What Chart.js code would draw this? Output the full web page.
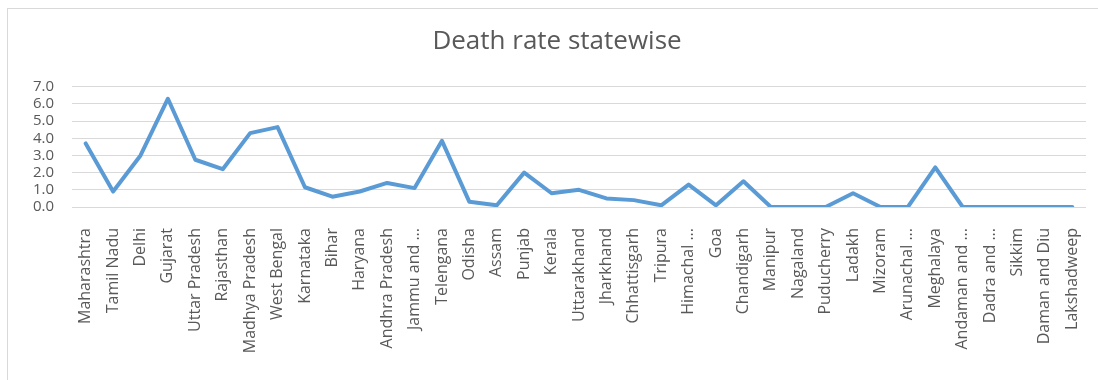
<!DOCTYPE html>
<html>
<head>
<meta charset="utf-8">
<script src="https://cdn.jsdelivr.net/npm/chart.js@4/dist/chart.umd.min.js"></script>
<style>
  html, body { margin: 0; padding: 0; background: #ffffff; }
  #wrap { position: relative; width: 1098px; height: 380px; }
  #frame { position: absolute; left: 7px; top: 8px; right: -2px; bottom: -2px; border-left: 1px solid #d9d9d9; border-top: 1px solid #d9d9d9; pointer-events: none; }
  canvas { position: absolute; left: 0; top: 0; }
</style>
</head>
<body>
<div id="wrap">
  <canvas id="c" width="1098" height="380"></canvas>
  <div id="frame"></div>
</div>
<script>
const chartTitle = "Death rate statewise";

const states = [
  "Maharashtra", "Tamil Nadu", "Delhi", "Gujarat", "Uttar Pradesh", "Rajasthan",
  "Madhya Pradesh", "West Bengal", "Karnataka", "Bihar", "Haryana", "Andhra Pradesh",
  "Jammu and ...", "Telengana", "Odisha", "Assam", "Punjab", "Kerala",
  "Uttarakhand", "Jharkhand", "Chhattisgarh", "Tripura", "Himachal ...", "Goa",
  "Chandigarh", "Manipur", "Nagaland", "Puducherry", "Ladakh", "Mizoram",
  "Arunachal ...", "Meghalaya", "Andaman and ...", "Dadra and ...", "Sikkim",
  "Daman and Diu", "Lakshadweep"
];

const deathRate = [
  3.7, 0.9, 3.0, 6.3, 2.75, 2.2,
  4.3, 4.65, 1.15, 0.6, 0.9, 1.4,
  1.1, 3.85, 0.3, 0.1, 2.0, 0.8,
  1.0, 0.5, 0.4, 0.1, 1.3, 0.1,
  1.5, 0.0, 0.0, 0.0, 0.8, 0.0,
  0.0, 2.3, 0.0, 0.0, 0.0,
  0.0, 0.0
];

const yTicks = [0, 1, 2, 3, 4, 5, 6, 7];

const textColor = "#595959";
const gridColor = "#d9d9d9";
const lineColor = "#5b9bd5";

new Chart(document.getElementById("c"), {
  type: "line",
  data: {
    labels: states,
    datasets: [{
      label: "Death rate",
      data: deathRate,
      borderColor: lineColor,
      backgroundColor: lineColor,
      borderWidth: 4,
      pointRadius: 0,
      pointHoverRadius: 0,
      tension: 0,
      borderJoinStyle: "round",
      borderCapStyle: "round",
      fill: false
    }]
  },
  options: {
    responsive: false,
    animation: false,
    devicePixelRatio: 1,
    layout: { padding: { left: 28, right: 12, top: 0, bottom: 0 } },
    plugins: {
      legend: { display: false },
      tooltip: { enabled: false },
      title: {
        display: true,
        text: chartTitle,
        color: textColor,
        font: { family: "Open Sans", size: 26, weight: "normal" },
        padding: { top: 26, bottom: 29.5 }
      }
    },
    scales: {
      x: {
        type: "category",
        offset: true,
        grid: { display: false, drawTicks: false },
        border: { display: false },
        ticks: {
          color: textColor,
          font: { family: "Open Sans", size: 16 },
          minRotation: 90,
          maxRotation: 90,
          autoSkip: false,
          padding: 21
        },
        afterFit: (s) => { s.height = 173; s.paddingLeft = 0; s.paddingRight = 0; }
      },
      y: {
        min: yTicks[0],
        max: yTicks[yTicks.length - 1],
        afterBuildTicks: (s) => { s.ticks = yTicks.map(v => ({ value: v })); },
        grid: { color: gridColor, lineWidth: 1, drawTicks: false },
        border: { display: false },
        ticks: {
          color: textColor,
          font: { family: "Open Sans", size: 15 },
          padding: 18,
          autoSkip: false,
          callback: (v) => Number(v).toFixed(1)
        },
        afterFit: (s) => { s.width = 44; s.paddingTop = 0; s.paddingBottom = 0; }
      }
    }
  }
});
</script>
</body>
</html>
